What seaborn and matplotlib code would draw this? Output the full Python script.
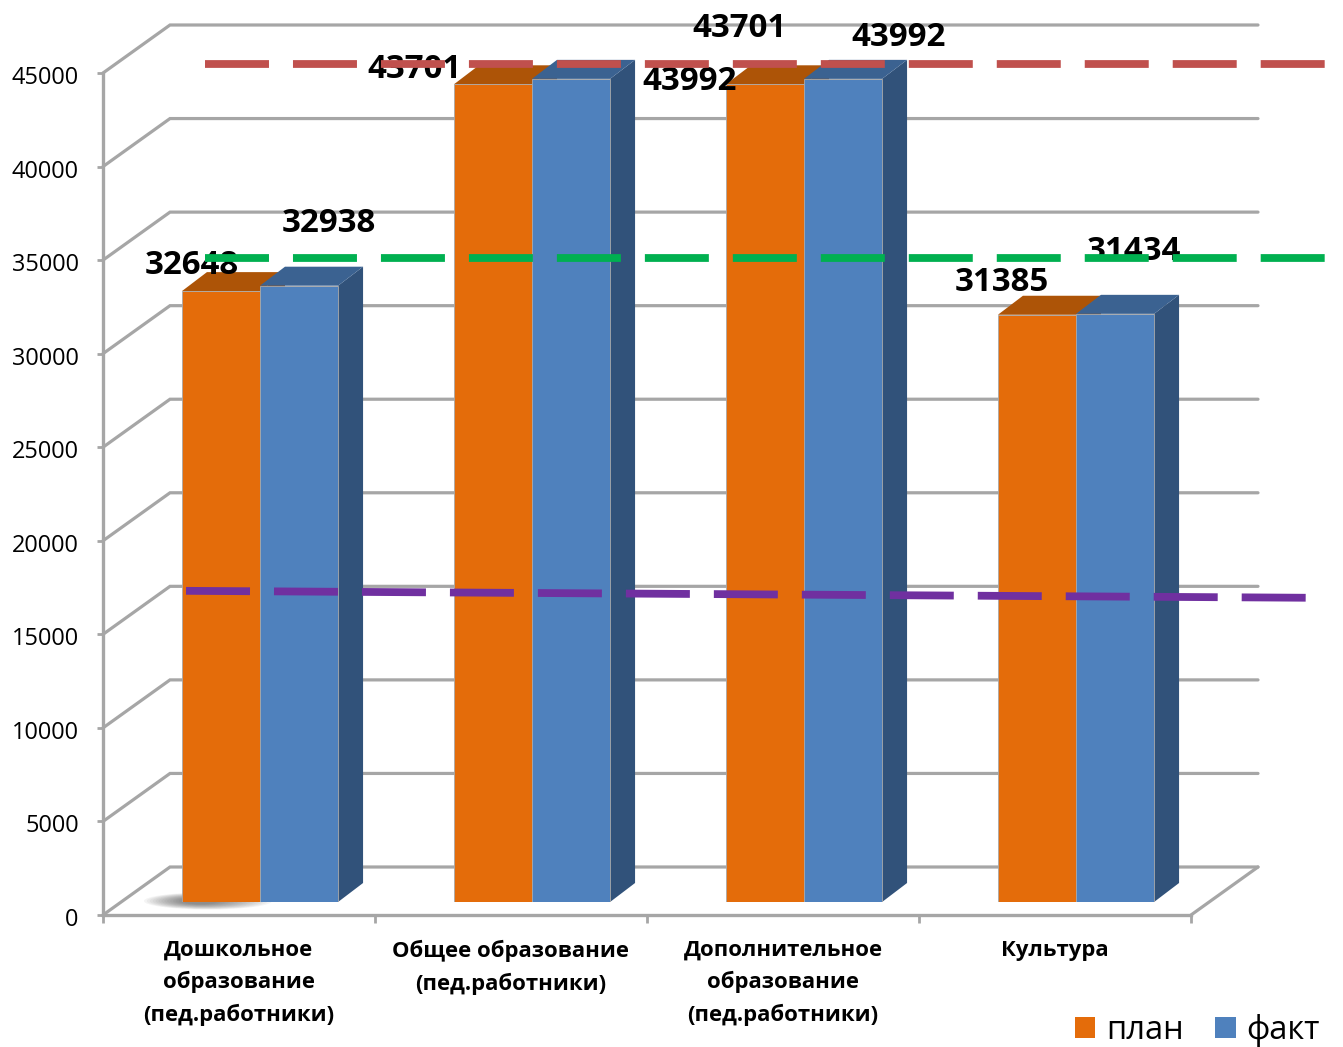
import matplotlib
matplotlib.use("Agg")
import matplotlib.pyplot as plt
import pandas as pd
import seaborn as sns
from matplotlib.patches import Polygon, Patch, Ellipse
from matplotlib.transforms import IdentityTransform, ScaledTranslation

categories = ["Дошкольное\nобразование\n(пед.работники)",
              "Общее образование\n(пед.работники)",
              "Дополнительное\nобразование\n(пед.работники)",
              "Культура"]
plan_values = [32648, 43701, 43701, 31385]
fact_values = [32938, 43992, 43992, 31434]
series_names = ["план", "факт"]
y_ticks = [0, 5000, 10000, 15000, 20000, 25000, 30000, 35000, 40000, 45000]
red_level = [44800, 44800]
green_level = [34430, 34430]
purple_level = [16630, 16260]

# label offsets from the top centre of each bar (pixels: right, up)
plan_label_offsets = [(-29, 26), (-78, 15), (-25, 56), (-35, 32)]
fact_label_offsets = [(30, 62), (119, -3), (56, 41), (19, 62)]

W, H = 1343, 1047
sns.set_theme(style="white")
plt.rcParams["font.family"] = ["Open Sans", "DejaVu Sans"]
fig = plt.figure(figsize=(W / 100, H / 100), dpi=100, facecolor="white")


def box(x0, x1, y_bottom, y_top):
    return [x0 / W, 1 - y_bottom / H, (x1 - x0) / W, (y_bottom - y_top) / H]


GRAY = "#A6A6A6"
ax_f = fig.add_axes(box(103, 1191, 915, 73), zorder=0)
ax_b = fig.add_axes(box(124, 1212, 902, 60), zorder=1)
ax_b.patch.set_alpha(0)

# frame axes: real ticks and spines
ax_f.set_xlim(-0.5, 3.5)
ax_f.set_ylim(0, 45000)
ax_f.set_yticks(y_ticks)
ax_f.set_xticks([-0.5, 0.5, 1.5, 2.5, 3.5])
ax_f.set_xticklabels([])
ax_f.set_xticks([0, 1, 2, 3], minor=True)
ax_f.set_xticklabels(categories, minor=True, fontsize=15.9, fontweight="bold",
                     color="black", linespacing=1.6)
ax_f.tick_params(axis="x", which="major", length=5.5, width=2, color=GRAY, bottom=True)
ax_f.tick_params(axis="x", which="minor", length=0, pad=18, bottom=True)
ax_f.tick_params(axis="y", length=4.5, width=2, color=GRAY, left=True,
                 labelsize=16.9, pad=13, labelcolor="black")
shift = ScaledTranslation(0, -2 / 100, fig.dpi_scale_trans)
for lab in ax_f.get_yticklabels():
    lab.set_transform(lab.get_transform() + shift)
sns.despine(ax=ax_f)
for s in ("left", "bottom"):
    ax_f.spines[s].set_color(GRAY)
    ax_f.spines[s].set_linewidth(2.4)

# walls and floor of the 3D box, derived from the frame axes' scale
to_px = ax_f.transData.transform
DX, DY = 67, 48
for v in y_ticks:
    x0, y0 = to_px((-0.5, v))
    x1, y1 = to_px((3.5, v))
    ax_f.plot([x0, x0 + DX, x1 + DX], [y0, y0 + DY, y1 + DY], color=GRAY, lw=2.3,
              transform=IdentityTransform(), clip_on=False, solid_joinstyle="miter")
x1, y1 = to_px((3.5, 0))
ax_f.plot([x1, x1 + DX], [y1, y1 + DY], color=GRAY, lw=2.3,
          transform=IdentityTransform(), clip_on=False)

# bars
df = pd.DataFrame({
    "cat": categories * 2,
    "val": plan_values + fact_values,
    "series": [series_names[0]] * 4 + [series_names[1]] * 4,
})
colors = {"план": "#E46C0A", "факт": "#4F81BD"}
sns.barplot(data=df, x="cat", y="val", hue="series", palette=colors, saturation=1,
            width=0.574, gap=0, dodge=True, legend=False, ax=ax_b, zorder=4,
            edgecolor="#A9A9A9", linewidth=0.6)
ax_b.set_xlim(-0.5, 3.5)
ax_b.set_ylim(0, 45000)
ax_b.axis("off")

# extruded faces
ox, oy = 25, 19
top_col = ["#AD5407", "#3B6291"]
side_col = ["#A85207", "#31527A"]
for k, cont in enumerate(ax_b.containers):
    offs = plan_label_offsets if k == 0 else fact_label_offsets
    for bar, (lx, ly) in zip(cont, offs):
        (xa, ya), (xb, yb) = ax_b.transData.transform(
            [(bar.get_x(), 0), (bar.get_x() + bar.get_width(), bar.get_height())])
        ax_b.add_patch(Polygon([(xb, ya), (xb + ox, ya + oy), (xb + ox, yb + oy), (xb, yb)],
                               closed=True, fc=side_col[k], ec="none",
                               transform=IdentityTransform(), zorder=2 + k * 0.1, clip_on=False))
        ax_b.add_patch(Polygon([(xa, yb), (xa + ox, yb + oy), (xb + ox, yb + oy), (xb, yb)],
                               closed=True, fc=top_col[k], ec="none",
                               transform=IdentityTransform(), zorder=2 + k * 0.1, clip_on=False))
        ax_b.annotate(str(int(bar.get_height())),
                      xy=(bar.get_x() + bar.get_width() / 2, bar.get_height()),
                      xytext=(lx * 0.72, ly * 0.72), textcoords="offset points",
                      ha="center", va="center", fontsize=23.8, fontweight="bold",
                      color="black", zorder=6, annotation_clip=False)

# soft shadow on the floor left of the first bar
first = ax_b.containers[0][0]
(xa, ya) = ax_b.transData.transform((first.get_x(), 0))
for i in range(14):
    ax_b.add_patch(Ellipse((xa + 26 - i * 0.6, ya + 1), 128 - i * 7, 17 - i * 0.8, fc="#303030",
                           ec="none", alpha=0.05, transform=IdentityTransform(),
                           zorder=1.5, clip_on=False))

# dashed reference lines
dash = dict(lw=5.6, clip_on=False, zorder=7, linestyle=(0, (64 / 7.78, 24 / 7.78)),
            dash_capstyle="butt")
ax_b.plot([-0.202, 3.919], red_level, color="#C0504D", **dash)
ax_b.plot([-0.202, 3.919], green_level, color="#00B050", **dash)
ax_b.plot([-0.272, 3.849], purple_level, color="#7030A0", **dash)

# legend
handles = [Patch(fc=colors[n], ec="none", label=n) for n in series_names]
fig.legend(handles=handles, loc="lower right", bbox_to_anchor=(1320 / W, 1 - 1047 / H),
           ncol=2, frameon=False, fontsize=23.5, handlelength=0.62, handleheight=0.62,
           handletextpad=0.34, columnspacing=0.96, borderpad=0, borderaxespad=0,
           labelcolor="black")

fig.savefig("out.png", dpi=100)
